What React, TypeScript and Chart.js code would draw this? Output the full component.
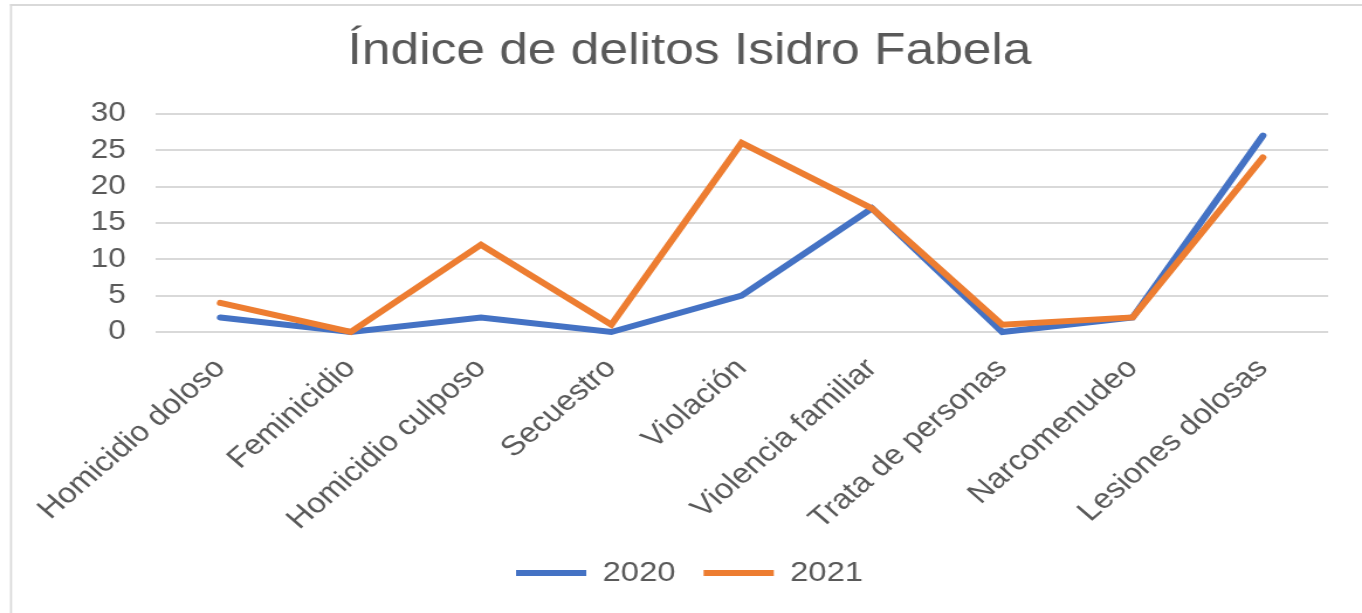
import React, { useEffect, useRef } from 'react';
import { Chart, registerables } from 'chart.js';

Chart.register(...registerables);

const categories = [
  'Homicidio doloso',
  'Feminicidio',
  'Homicidio culposo',
  'Secuestro',
  'Violación',
  'Violencia familiar',
  'Trata de personas',
  'Narcomenudeo',
  'Lesiones dolosas',
];
const values2020 = [2, 0, 2, 0, 5, 17, 0, 2, 27];
const values2021 = [4, 0, 12, 1, 26, 17, 1, 2, 24];
const yMin = 0;
const yMax = 30;
const yStep = 5;
const titleText = 'Índice de delitos Isidro Fabela';
const seriesNames = ['2020', '2021'];

const STRETCH = 1.17;
const VIEW_W = 1362;
const VIEW_H = 613;
const INNER_W = Math.round(VIEW_W / STRETCH);

const FONT = "'Liberation Sans', Arial, Helvetica, sans-serif";
const TEXT = '#595959';
const GRID = '#d9d9d9';
const BLUE = '#4472C4';
const ORANGE = '#ED7D31';

const frame = {
  id: 'frame',
  beforeDraw(chart: any) {
    const ctx = chart.ctx;
    ctx.save();
    ctx.fillStyle = '#ffffff';
    ctx.fillRect(0, 0, chart.width, chart.height);
    ctx.strokeStyle = GRID;
    ctx.lineWidth = 2 / STRETCH;
    ctx.beginPath();
    ctx.moveTo(11 / STRETCH, 4);
    ctx.lineTo(11 / STRETCH, chart.height);
    ctx.stroke();
    ctx.lineWidth = 2;
    ctx.beginPath();
    ctx.moveTo(10 / STRETCH, 5);
    ctx.lineTo(chart.width, 5);
    ctx.stroke();
    ctx.restore();
  },
};

export default function App() {
  const ref = useRef<HTMLCanvasElement | null>(null);

  useEffect(() => {
    if (!ref.current) return;
    const chart = new Chart(ref.current, {
      type: 'line',
      data: {
        labels: categories,
        datasets: [
          {
            label: seriesNames[0],
            data: values2020,
            borderColor: BLUE,
            backgroundColor: BLUE,
            borderWidth: 6,
            borderCapStyle: 'round',
            pointRadius: 0,
            pointHoverRadius: 0,
            tension: 0,
            order: 1,
            clip: false as any,
          },
          {
            label: seriesNames[1],
            data: values2021,
            borderColor: ORANGE,
            backgroundColor: ORANGE,
            borderWidth: 6,
            borderCapStyle: 'round',
            pointRadius: 0,
            pointHoverRadius: 0,
            tension: 0,
            order: 0,
            clip: false as any,
          },
        ],
      },
      options: {
        responsive: false,
        animation: false,
        devicePixelRatio: 1,
        layout: { padding: { left: 43.6, right: 29, top: 10, bottom: 16 } },
        plugins: {
          title: {
            display: true,
            text: titleText,
            color: TEXT,
            font: { family: FONT, size: 44, weight: 'normal' },
            padding: { top: 15, bottom: 36 },
          },
          legend: {
            position: 'bottom',
            labels: {
              usePointStyle: true,
              pointStyle: 'line',
              pointStyleWidth: 60,
              color: TEXT,
              font: { family: FONT, size: 28 },
              padding: 24,
              sort: (a: any, b: any) => a.datasetIndex - b.datasetIndex,
            },
          },
          tooltip: { enabled: false },
        },
        scales: {
          x: {
            offset: true,
            grid: { display: false, drawTicks: false },
            border: { display: false },
            ticks: {
              color: TEXT,
              font: { family: FONT, size: 28 },
              maxRotation: 45,
              minRotation: 45,
              padding: 20,
              autoSkip: false,
            },
            afterFit: (s: any) => {
              s.height = 203;
            },
          },
          y: {
            min: yMin,
            max: yMax,
            grid: { color: GRID, lineWidth: 2, drawTicks: false },
            border: { display: false },
            ticks: {
              stepSize: yStep,
              color: TEXT,
              font: { family: FONT, size: 27 },
              padding: 25,
            },
            afterFit: (s: any) => {
              s.width = 89;
            },
          },
        },
      },
      plugins: [frame],
    });
    return () => chart.destroy();
  }, []);

  return (
    <div
      style={{
        position: 'absolute',
        left: 0,
        top: 0,
        width: VIEW_W,
        height: VIEW_H,
        overflow: 'hidden',
        background: '#fff',
      }}
    >
      <canvas
        ref={ref}
        width={INNER_W}
        height={VIEW_H}
        style={{ width: VIEW_W + 'px', height: VIEW_H + 'px', display: 'block' }}
      />
    </div>
  );
}
